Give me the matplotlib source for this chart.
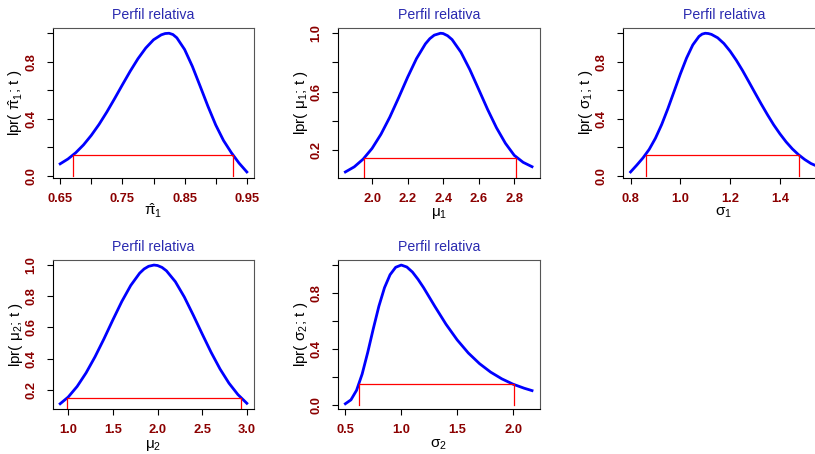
import matplotlib
matplotlib.use('Agg')
import matplotlib.pyplot as plt

plt.rcParams['font.family'] = ['Liberation Sans', 'DejaVu Sans']
plt.rcParams['mathtext.default'] = 'regular'

# cutoff for the 95% interval of the relative profile likelihood
cut = 0.147

# pi_1 (mixing proportion)
pi1_x = [0.65, 0.6625, 0.675, 0.6875, 0.70, 0.7125, 0.725, 0.7375, 0.75, 0.7625,
         0.775, 0.7875, 0.80, 0.8125, 0.81875, 0.825, 0.83125, 0.8375, 0.85, 0.8625,
         0.875, 0.8875, 0.90, 0.9125, 0.925, 0.9375, 0.95]
pi1_lpr = [0.083, 0.117, 0.161, 0.216, 0.283, 0.360, 0.447, 0.541, 0.638, 0.733,
           0.821, 0.896, 0.954, 0.989, 0.998, 1.000, 0.991, 0.968, 0.886, 0.767,
           0.628, 0.487, 0.356, 0.247, 0.162, 0.088, 0.026]
pi1_ci = [0.671, 0.928]

# mu_1
mu1_x = [1.85, 1.90, 1.95, 2.00, 2.05, 2.10, 2.15, 2.20, 2.25, 2.30, 2.325, 2.35, 2.385,
         2.40, 2.425, 2.45, 2.50, 2.55, 2.60, 2.65, 2.70, 2.75, 2.80, 2.85, 2.90]
mu1_lpr = [0.049, 0.084, 0.137, 0.210, 0.307, 0.425, 0.559, 0.698, 0.826, 0.927, 0.963, 0.987, 1.000,
           0.998, 0.983, 0.957, 0.870, 0.751, 0.615, 0.478, 0.352, 0.246, 0.163, 0.115, 0.085]
mu1_ci = [1.957, 2.811]

# sigma_1
sig1_x = [0.800, 0.825, 0.850, 0.875, 0.900, 0.925, 0.950, 0.975, 1.000, 1.025, 1.050,
          1.075, 1.0875, 1.100, 1.1125, 1.125, 1.150, 1.175, 1.200, 1.225, 1.250, 1.275,
          1.300, 1.325, 1.350, 1.375, 1.400, 1.425, 1.450, 1.475, 1.500, 1.525, 1.550]
sig1_lpr = [0.026, 0.074, 0.125, 0.185, 0.263, 0.359, 0.471, 0.592, 0.714, 0.826, 0.918,
            0.978, 0.994, 1.000, 0.998, 0.992, 0.968, 0.928, 0.874, 0.810, 0.738, 0.660,
            0.581, 0.503, 0.428, 0.357, 0.294, 0.237, 0.188, 0.147, 0.113, 0.085, 0.066]
sig1_ci = [0.860, 1.475]

# mu_2
mu2_x = [0.91, 1.0, 1.1, 1.2, 1.3, 1.4, 1.5, 1.6, 1.7, 1.8, 1.85, 1.9, 1.96,
         2.0, 2.05, 2.1, 2.2, 2.3, 2.4, 2.5, 2.6, 2.7, 2.8, 2.9, 3.0]
mu2_lpr = [0.110, 0.153, 0.221, 0.308, 0.411, 0.526, 0.648, 0.766, 0.869, 0.948, 0.975, 0.992, 1.000,
           0.997, 0.985, 0.963, 0.893, 0.795, 0.679, 0.558, 0.440, 0.333, 0.242, 0.169, 0.113]
mu2_ci = [0.99, 2.94]

# sigma_2
sig2_x = [0.50, 0.55, 0.60, 0.65, 0.70, 0.75, 0.80, 0.85, 0.90, 0.95, 1.00, 1.05, 1.10,
          1.15, 1.20, 1.30, 1.40, 1.50, 1.60, 1.70, 1.80, 1.90, 2.00, 2.10, 2.17]
sig2_lpr = [0.008, 0.036, 0.104, 0.220, 0.375, 0.545, 0.706, 0.838, 0.931, 0.984, 1.000, 0.986, 0.950,
            0.898, 0.838, 0.705, 0.577, 0.465, 0.371, 0.295, 0.234, 0.186, 0.148, 0.119, 0.102]
sig2_ci = [0.622, 2.006]

W, H = 815, 454
fig = plt.figure(figsize=(W / 100, H / 100), dpi=100)


def panel(col, row, x, y, ci, xticks, xlabs, yticks, ylabs, xlab, ylab):
    left = 52.7 + 285.2 * col
    top = 27.7 + 231.8 * row
    ax = fig.add_axes([left / W, 1 - (top + 149.8) / H, 201.6 / W, 149.8 / H])
    ax.plot(x, y, color='blue', lw=2, solid_joinstyle='round')
    xr = max(x) - min(x)
    yr = max(y) - min(y)
    ax.set_xlim(min(x) - 0.04 * xr, max(x) + 0.04 * xr)
    ax.set_ylim(min(y) - 0.04 * yr, max(y) + 0.04 * yr)
    ax.plot([ci[0], ci[0], ci[1], ci[1]], [0, cut, cut, 0], color='red', lw=0.9)

    for s in ax.spines.values():
        s.set_linewidth(0.8)
    ax.spines['top'].set_color('#555555')
    ax.spines['right'].set_color('#555555')

    ax.set_xticks(xticks)
    ax.set_xticklabels(xlabs, fontweight='bold')
    ax.set_yticks(yticks)
    ax.set_yticklabels(ylabs, fontweight='bold', rotation=90, va='center')
    ax.tick_params(direction='out', length=4.3, width=0.8, labelsize=9.3,
                   labelcolor='#8B0000')
    ax.tick_params(axis='x', pad=6.5)
    ax.tick_params(axis='y', pad=7)

    ax.set_title('Perfil relativa', color='#2A2AB0', fontsize=10.2, pad=6.3)
    ax.set_xlabel(xlab, fontsize=11, va='baseline')
    ax.xaxis.set_label_coords(0.5, -38.5 / 149.8)
    ax.set_ylabel(ylab, fontsize=11, va='center')
    ax.yaxis.set_label_coords(-37 / 201.6, 0.5)
    return ax


yt_all = [0.0, 0.2, 0.4, 0.6, 0.8, 1.0]
yl_alt = ['0.0', '', '0.4', '', '0.8', '']

panel(0, 0, pi1_x, pi1_lpr, pi1_ci,
      [0.65, 0.70, 0.75, 0.80, 0.85, 0.90, 0.95], ['0.65', '', '0.75', '', '0.85', '', '0.95'],
      yt_all, yl_alt, r'$\hat{\pi}_1$', r'lpr( $\hat{\pi}_1$; t )')
panel(1, 0, mu1_x, mu1_lpr, mu1_ci,
      [2.0, 2.2, 2.4, 2.6, 2.8], ['2.0', '2.2', '2.4', '2.6', '2.8'],
      [0.2, 0.4, 0.6, 0.8, 1.0], ['0.2', '', '0.6', '', '1.0'],
      r'$\mu_1$', r'lpr( $\mu_1$; t )')
panel(2, 0, sig1_x, sig1_lpr, sig1_ci,
      [0.8, 1.0, 1.2, 1.4], ['0.8', '1.0', '1.2', '1.4'],
      yt_all, yl_alt, r'$\sigma_1$', r'lpr( $\sigma_1$; t )')
panel(0, 1, mu2_x, mu2_lpr, mu2_ci,
      [1.0, 1.5, 2.0, 2.5, 3.0], ['1.0', '1.5', '2.0', '2.5', '3.0'],
      [0.2, 0.4, 0.6, 0.8, 1.0], ['0.2', '0.4', '0.6', '0.8', '1.0'],
      r'$\mu_2$', r'lpr( $\mu_2$; t )')
panel(1, 1, sig2_x, sig2_lpr, sig2_ci,
      [0.5, 1.0, 1.5, 2.0], ['0.5', '1.0', '1.5', '2.0'],
      yt_all, yl_alt, r'$\sigma_2$', r'lpr( $\sigma_2$; t )')

fig.savefig('out.png', dpi=100)
